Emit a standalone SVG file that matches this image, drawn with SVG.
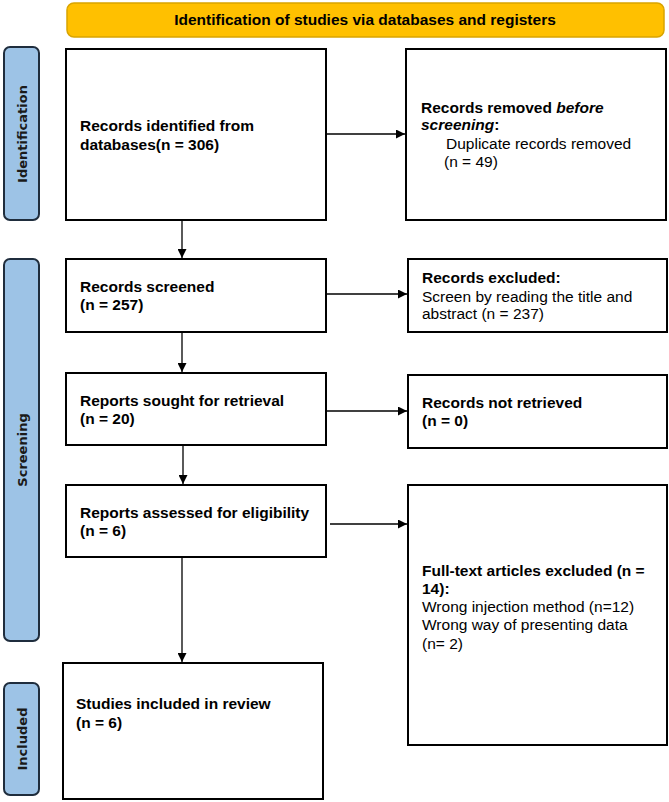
<svg xmlns="http://www.w3.org/2000/svg" width="669" height="802" viewBox="0 0 669 802">
<defs>
<style>
.box{fill:#fff;stroke:#000;stroke-width:2}
.side{fill:#9DC3E6;stroke:#1F2D3D;stroke-width:2}
.hdr{fill:#FFC000;stroke:#D9A400;stroke-width:1.5}
.t{font-family:"Liberation Sans",Arial,sans-serif;font-size:15.5px;fill:#000}
.b{font-weight:bold}
.st{font-family:"DejaVu Sans",Verdana,sans-serif;font-size:13px;font-weight:bold;fill:#1a1a1a;text-anchor:middle}
.ln{stroke:#000;stroke-width:1.3;fill:none}
</style>
<marker id="ah" viewBox="0 0 10 10" refX="10" refY="5" markerWidth="10" markerHeight="9" markerUnits="userSpaceOnUse" orient="auto">
<path d="M0,0 L10,5 L0,10 Z" fill="#000"/>
</marker>
</defs>
<rect width="669" height="802" fill="#fff"/>

<g id="header">
<rect class="hdr" x="67" y="3" width="597" height="34" rx="7"/>
<text class="t b" x="365" y="25" text-anchor="middle" font-size="15">Identification of studies via databases and registers</text>
</g>

<g id="side-identification">
<rect class="side" x="4" y="47" width="35" height="173" rx="6"/>
<text class="st" transform="translate(27,134) rotate(-90)">Identification</text>
</g>
<g id="side-screening">
<rect class="side" x="4" y="259" width="35" height="382" rx="6"/>
<text class="st" transform="translate(27,450) rotate(-90)">Screening</text>
</g>
<g id="side-included">
<rect class="side" x="4" y="683" width="35" height="112" rx="6"/>
<text class="st" transform="translate(27,739) rotate(-90)">Included</text>
</g>

<g id="records-identified">
<rect class="box" x="66" y="49" width="260" height="171"/>
<text class="t b" x="80" y="131">Records identified from</text>
<text class="t b" x="80" y="150">databases(n = 306)</text>
</g>
<g id="records-removed">
<rect class="box" x="406" y="49" width="260" height="171"/>
<text class="t b" x="421" y="113">Records removed <tspan font-style="italic">before</tspan></text>
<text class="t b" x="421" y="130"><tspan font-style="italic">screening</tspan>:</text>
<text class="t" x="446" y="149">Duplicate records removed</text>
<text class="t" x="444" y="167">(n = 49)</text>
</g>

<g id="records-screened">
<rect class="box" x="66" y="259" width="260" height="73"/>
<text class="t b" x="80" y="292">Records screened</text>
<text class="t b" x="80" y="310">(n = 257)</text>
</g>
<g id="records-excluded">
<rect class="box" x="408" y="259" width="259" height="73"/>
<text class="t b" x="422" y="283">Records excluded:</text>
<text class="t" x="422" y="302">Screen by reading the title and</text>
<text class="t" x="422" y="319">abstract (n = 237)</text>
</g>

<g id="reports-sought">
<rect class="box" x="66" y="373" width="260" height="72"/>
<text class="t b" x="80" y="406">Reports sought for retrieval</text>
<text class="t b" x="80" y="424">(n = 20)</text>
</g>
<g id="records-not-retrieved">
<rect class="box" x="408" y="375" width="259" height="73"/>
<text class="t b" x="422" y="408">Records not retrieved</text>
<text class="t b" x="422" y="426">(n = 0)</text>
</g>

<g id="reports-assessed">
<rect class="box" x="66" y="485" width="260" height="72"/>
<text class="t b" x="80" y="518">Reports assessed for eligibility</text>
<text class="t b" x="80" y="536">(n = 6)</text>
</g>
<g id="full-text-excluded">
<rect class="box" x="408" y="485" width="259" height="260"/>
<text class="t b" x="422" y="576">Full-text articles excluded (n =</text>
<text class="t b" x="422" y="594">14):</text>
<text class="t" x="422" y="612">Wrong injection method (n=12)</text>
<text class="t" x="422" y="630">Wrong way of presenting data</text>
<text class="t" x="422" y="649">(n= 2)</text>
</g>

<g id="studies-included">
<rect class="box" x="63" y="663" width="260" height="136"/>
<text class="t b" x="76" y="709">Studies included in review</text>
<text class="t b" x="76" y="728">(n = 6)</text>
</g>

<g id="connectors">
<line class="ln" x1="326" y1="134" x2="405" y2="134" marker-end="url(#ah)"/>
<line class="ln" x1="182" y1="220" x2="182" y2="258" marker-end="url(#ah)"/>
<line class="ln" x1="326" y1="294" x2="407" y2="294" marker-end="url(#ah)"/>
<line class="ln" x1="182" y1="332" x2="182" y2="372" marker-end="url(#ah)"/>
<line class="ln" x1="326" y1="411" x2="407" y2="411" marker-end="url(#ah)"/>
<line class="ln" x1="183" y1="445" x2="183" y2="484" marker-end="url(#ah)"/>
<line class="ln" x1="330" y1="524" x2="407" y2="524" marker-end="url(#ah)"/>
<line class="ln" x1="182" y1="557" x2="182" y2="662" marker-end="url(#ah)"/>
</g>
</svg>
